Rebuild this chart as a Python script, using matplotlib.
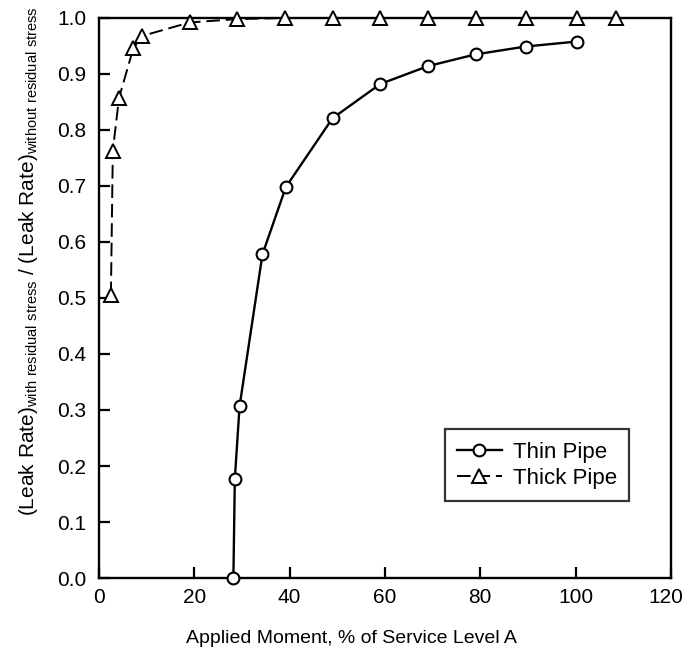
import numpy as np
import matplotlib
matplotlib.use("Agg")
import matplotlib.pyplot as plt
from matplotlib.transforms import ScaledTranslation

plt.rcParams['font.family'] = ['Liberation Sans', 'DejaVu Sans']
plt.rcParams['mathtext.fontset'] = 'custom'
plt.rcParams['mathtext.rm'] = 'Liberation Sans'

# values
thin_x = [28.2, 28.5, 29.5, 34.3, 39.2, 49, 59, 69, 79, 89.5, 100.3]
thin_y = [0.0, 0.177, 0.307, 0.578, 0.698, 0.821, 0.882, 0.914, 0.935, 0.949, 0.958]

thick_x = [2.5, 2.9, 4.2, 7.2, 9.1, 19, 29, 39, 49, 59, 69, 79, 89.5, 100.3, 108.4]
thick_y = [0.505, 0.763, 0.857, 0.946, 0.968, 0.992, 0.998, 1.0, 1.0, 1.0, 1.0, 1.0, 1.0, 1.0, 1.0]

x_ticks = [0, 20, 40, 60, 80, 100, 120]
y_ticks = [0.0, 0.1, 0.2, 0.3, 0.4, 0.5, 0.6, 0.7, 0.8, 0.9, 1.0]

fig = plt.figure(figsize=(6.86, 6.54), dpi=100)
ax = fig.add_axes([0.1443, 0.1162, 0.8337, 0.8563])

ax.plot(thin_x, thin_y, '-', color='black', lw=1.7, marker='o', ms=8.5,
        mfc='white', mec='black', mew=1.5, label='Thin Pipe', clip_on=False, zorder=3)
ax.plot(thick_x, thick_y, color='black', lw=1.4, ls=(0, (7, 3)), marker='^', ms=9.5,
        mfc='white', mec='black', mew=1.4, label='Thick Pipe', clip_on=False, zorder=3)

ax.set_xlim(0, 120)
ax.set_ylim(0, 1.0)
ax.set_xticks(x_ticks)
ax.set_yticks(y_ticks)
ax.set_yticklabels(['%.1f' % v for v in y_ticks])
ax.tick_params(direction='in', length=8, width=1.6, labelsize=15,
               top=False, right=False)
ax.tick_params(axis='y', pad=9)
ax.tick_params(axis='x', pad=7)
for s in ax.spines.values():
    s.set_linewidth(1.7)

# keep the last x label inside the canvas
last = ax.get_xticklabels()[-1]
last.set_transform(last.get_transform() + ScaledTranslation(-4 / 72, 0, fig.dpi_scale_trans))

ax.set_xlabel('Applied Moment, % of Service Level A', fontsize=14)
ax.xaxis.set_label_coords(0.442, -0.093)
ax.set_ylabel(r'(Leak Rate)$_{\mathregular{with\ residual\ stress}}$ / (Leak Rate)$_{\mathregular{without\ residual\ stress}}$',
              fontsize=15)
ax.yaxis.set_label_coords(-0.103, 0.565)

leg = ax.legend(loc='lower right', bbox_to_anchor=(0.927, 0.137), fontsize=16,
                frameon=True, fancybox=False, edgecolor='black', handlelength=2.0,
                borderpad=0.55, labelspacing=0.25, handletextpad=0.5, borderaxespad=0)
leg.get_frame().set_linewidth(1.6)

fig.savefig('out.png', dpi=100)
